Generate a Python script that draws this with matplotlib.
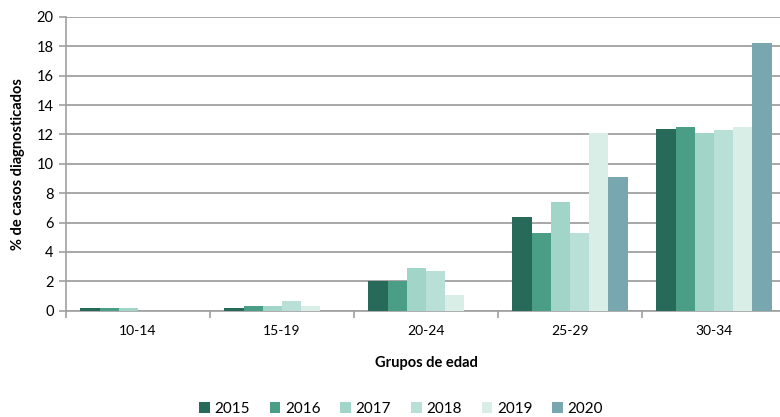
import matplotlib
matplotlib.use("Agg")
import matplotlib.pyplot as plt
import numpy as np

categories = ["10-14", "15-19", "20-24", "25-29", "30-34"]
years = ["2015", "2016", "2017", "2018", "2019", "2020"]
v2015 = [0.2, 0.2, 2.0, 6.4, 12.4]
v2016 = [0.2, 0.35, 2.0, 5.3, 12.5]
v2017 = [0.2, 0.35, 2.9, 7.4, 12.1]
v2018 = [0.0, 0.65, 2.7, 5.3, 12.3]
v2019 = [0.0, 0.35, 1.1, 12.1, 12.5]
v2020 = [0.0, 0.0, 0.0, 9.1, 18.2]
series = [v2015, v2016, v2017, v2018, v2019, v2020]
colors = ["#276A5A", "#4A9E85", "#A0D5C8", "#B8E0D6", "#D9EEE7", "#78A7B0"]

plt.rcParams['font.family'] = ['Lato', 'DejaVu Sans']
fig = plt.figure(figsize=(7.8, 4.17), dpi=100)
ax = fig.add_axes([66/780, (417-310.7)/417, 720/780, (310.7-17)/417])

x = np.arange(len(categories))
w = 0.8/6
for i, (vals, c, y) in enumerate(zip(series, colors, years)):
    ax.bar(x - 0.4 + w*(i+0.5), vals, width=w, color=c, label=y, zorder=3)

ax.set_xlim(-0.5, 4.5)
ax.set_ylim(0, 20)
ax.set_yticks(range(0, 21, 2))
ax.set_xticks(x)
ax.set_xticklabels(categories)
ax.set_xticks(np.arange(-0.5, 5, 1), minor=True)
ax.tick_params(axis='x', which='major', length=0, labelsize=10, colors='black', pad=10)
ax.tick_params(axis='x', which='minor', length=5, color='#A0A0A0', width=1.2)
ax.tick_params(axis='y', length=5, color='#A0A0A0', width=1.2, labelsize=10.5, pad=4)
ax.grid(axis='y', color='#A0A0A0', linewidth=1.3, zorder=0)
for s in ['top', 'right']:
    ax.spines[s].set_visible(False)
ax.spines['left'].set_color('#A0A0A0')
ax.spines['bottom'].set_color('#A0A0A0')
ax.spines['left'].set_linewidth(1.2)
ax.spines['bottom'].set_linewidth(1.2)

ax.set_ylabel("% de casos diagnosticados", fontsize=10.5, fontweight='bold', labelpad=8)
ax.set_xlabel("Grupos de edad", fontsize=10.5, fontweight='bold', labelpad=14)

handles, labels = ax.get_legend_handles_labels()
fig.legend(handles, labels, loc='center', bbox_to_anchor=(401/780, 1 - 409/417), ncol=6,
           frameon=False, fontsize=11, handlelength=0.7, handleheight=0.7,
           handletextpad=0.3, columnspacing=1.3)

fig.savefig("out.png", dpi=100)
